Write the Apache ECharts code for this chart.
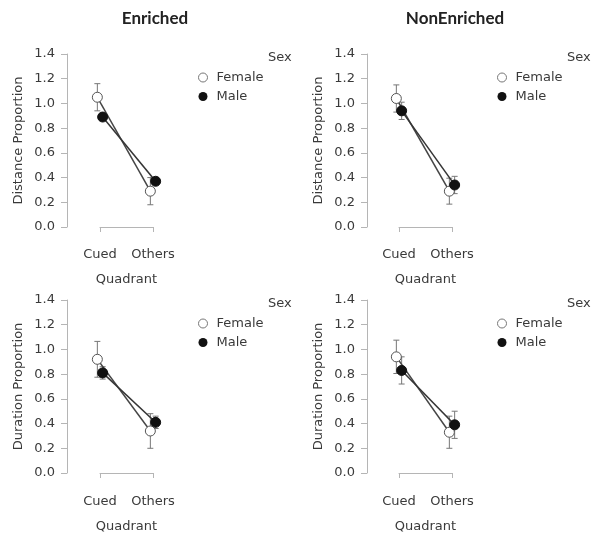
<!DOCTYPE html>
<html>
<head>
<meta charset="utf-8">
<script src="https://cdn.jsdelivr.net/npm/echarts@6/dist/echarts.min.js"></script>
<style>
html,body{margin:0;padding:0;background:#fff;}
#chart{width:591px;height:536px;}
</style>
</head>
<body>
<div id="chart"></div>
<script>
// ---- data ----
const categories = ['Cued', 'Others'];
const groups = ['Enriched', 'NonEnriched'];
const measures = ['Distance Proportion', 'Duration Proportion'];
const sexes = ['Female', 'Male'];
const legendTitle = 'Sex';
const xName = 'Quadrant';

const distEnrichedFemale = [1.05, 0.29];
const distEnrichedFemaleErr = [0.11, 0.11];
const distEnrichedMale = [0.89, 0.37];
const distEnrichedMaleErr = [0.03, 0.03];

const distNonEnrichedFemale = [1.04, 0.29];
const distNonEnrichedFemaleErr = [0.11, 0.105];
const distNonEnrichedMale = [0.94, 0.34];
const distNonEnrichedMaleErr = [0.07, 0.07];

const durEnrichedFemale = [0.92, 0.34];
const durEnrichedFemaleErr = [0.145, 0.14];
const durEnrichedMale = [0.81, 0.41];
const durEnrichedMaleErr = [0.05, 0.05];

const durNonEnrichedFemale = [0.94, 0.33];
const durNonEnrichedFemaleErr = [0.135, 0.13];
const durNonEnrichedMale = [0.83, 0.39];
const durNonEnrichedMaleErr = [0.11, 0.11];

// ---- layout ----
const panelData = [
  {f: distEnrichedFemale, fe: distEnrichedFemaleErr, m: distEnrichedMale, me: distEnrichedMaleErr},
  {f: distNonEnrichedFemale, fe: distNonEnrichedFemaleErr, m: distNonEnrichedMale, me: distNonEnrichedMaleErr},
  {f: durEnrichedFemale, fe: durEnrichedFemaleErr, m: durEnrichedMale, me: durEnrichedMaleErr},
  {f: durNonEnrichedFemale, fe: durNonEnrichedFemaleErr, m: durNonEnrichedMale, me: durNonEnrichedMaleErr}
];
const gridLeft = [100, 399, 100, 399];
const yOffset = [33, 32, 33, 32];
const gridTop = [54, 54, 300, 300];
const xOffset = [8, 8, 9, 9];
const gridW = 53, gridH = 173;
const dodge = 0.05;
const FONT = '"DejaVu Sans", sans-serif';
const TXT = '#3a3a3a';

const chart = echarts.init(document.getElementById('chart'), null, {renderer: 'canvas'});

const grid = [], xAxis = [], yAxis = [], series = [], legend = [], title = [];

function errRender(params, api) {
  const x = api.value(0), lo = api.value(1), hi = api.value(2);
  const p1 = api.coord([x, lo]), p2 = api.coord([x, hi]);
  const w = 3;
  const st = {stroke: '#777', lineWidth: 1};
  return {type: 'group', children: [
    {type: 'line', shape: {x1: p1[0], y1: p1[1], x2: p2[0], y2: p2[1]}, style: st},
    {type: 'line', shape: {x1: p1[0] - w, y1: p1[1], x2: p1[0] + w, y2: p1[1]}, style: st},
    {type: 'line', shape: {x1: p2[0] - w, y1: p2[1], x2: p2[0] + w, y2: p2[1]}, style: st}
  ]};
}

for (let k = 0; k < 4; k++) {
  const d = panelData[k];
  grid.push({left: gridLeft[k], top: gridTop[k], width: gridW, height: gridH});
  xAxis.push({
    gridIndex: k, type: 'value', min: 1, max: 2, interval: 1, offset: xOffset[k],
    name: xName, nameLocation: 'middle', nameGap: 38,
    nameTextStyle: {fontFamily: FONT, fontSize: 13, color: TXT},
    axisLine: {show: true, lineStyle: {color: '#b5b5b5', width: 1}},
    axisTick: {show: true, length: 5, lineStyle: {color: '#b5b5b5'}},
    axisLabel: {margin: 13, fontFamily: FONT, fontSize: 13, color: TXT,
      formatter: v => categories[Math.round(v) - 1] || ''},
    splitLine: {show: false}
  });
  yAxis.push({
    gridIndex: k, type: 'value', min: 0, max: 1.4, interval: 0.2, offset: yOffset[k],
    name: measures[Math.floor(k / 2)], nameLocation: 'middle', nameGap: 42,
    nameTextStyle: {fontFamily: FONT, fontSize: 13, color: TXT},
    axisLine: {show: true, lineStyle: {color: '#b5b5b5', width: 1}},
    axisTick: {show: true, length: 6, lineStyle: {color: '#b5b5b5'}},
    axisLabel: {margin: 12, fontFamily: FONT, fontSize: 13, color: TXT,
      formatter: v => v.toFixed(1)},
    splitLine: {show: false}
  });
  const fPts = categories.map((c, i) => [i + 1 - dodge, d.f[i]]);
  const mPts = categories.map((c, i) => [i + 1 + dodge, d.m[i]]);
  const fErr = categories.map((c, i) => [i + 1 - dodge, d.f[i] - d.fe[i], d.f[i] + d.fe[i]]);
  const mErr = categories.map((c, i) => [i + 1 + dodge, d.m[i] - d.me[i], d.m[i] + d.me[i]]);
  series.push({
    type: 'custom', name: sexes[0], xAxisIndex: k, yAxisIndex: k, data: fErr,
    encode: {x: 0, y: [1, 2]}, renderItem: errRender, z: 2, silent: true
  });
  series.push({
    type: 'custom', name: sexes[1], xAxisIndex: k, yAxisIndex: k, data: mErr,
    encode: {x: 0, y: [1, 2]}, renderItem: errRender, z: 2, silent: true
  });
  series.push({
    type: 'line', name: sexes[0], xAxisIndex: k, yAxisIndex: k, data: fPts, clip: false,
    symbol: 'circle', symbolSize: 10, z: 3,
    lineStyle: {color: '#454545', width: 1.5},
    itemStyle: {color: '#ffffff', borderColor: '#555', borderWidth: 1}
  });
  series.push({
    type: 'line', name: sexes[1], xAxisIndex: k, yAxisIndex: k, data: mPts, clip: false,
    symbol: 'circle', symbolSize: 10, z: 4,
    lineStyle: {color: '#353535', width: 1.5},
    itemStyle: {color: '#111111', borderColor: '#111', borderWidth: 1}
  });
  const lx = gridLeft[k] + 98;
  legend.push({
    orient: 'vertical', left: lx, top: gridTop[k] + 17, itemGap: 6, padding: 0,
    itemWidth: 9, itemHeight: 9, selectedMode: false,
    textStyle: {fontFamily: FONT, fontSize: 13, color: TXT, padding: [0, 0, 0, 4]},
    data: [
      {name: sexes[0], icon: 'circle', itemStyle: {color: '#fff', borderColor: '#777', borderWidth: 1}},
      {name: sexes[1], icon: 'circle', itemStyle: {color: '#111', borderWidth: 0}}
    ]
  });
  title.push({
    text: legendTitle, left: gridLeft[k] + 168, top: gridTop[k] - 3, padding: 0,
    textStyle: {fontFamily: FONT, fontSize: 13, fontWeight: 'normal', color: TXT}
  });
}
title.push({text: groups[0], left: 155, top: 10, padding: 0, textAlign: 'center',
  textStyle: {fontFamily: 'Lato, "Open Sans", sans-serif', fontSize: 17, fontWeight: 'bold', color: '#222'}});
title.push({text: groups[1], left: 455, top: 10, padding: 0, textAlign: 'center',
  textStyle: {fontFamily: 'Lato, "Open Sans", sans-serif', fontSize: 17, fontWeight: 'bold', color: '#222'}});

chart.setOption({
  animation: false,
  backgroundColor: '#fff',
  title, legend, grid, xAxis, yAxis, series
});
</script>
</body>
</html>
